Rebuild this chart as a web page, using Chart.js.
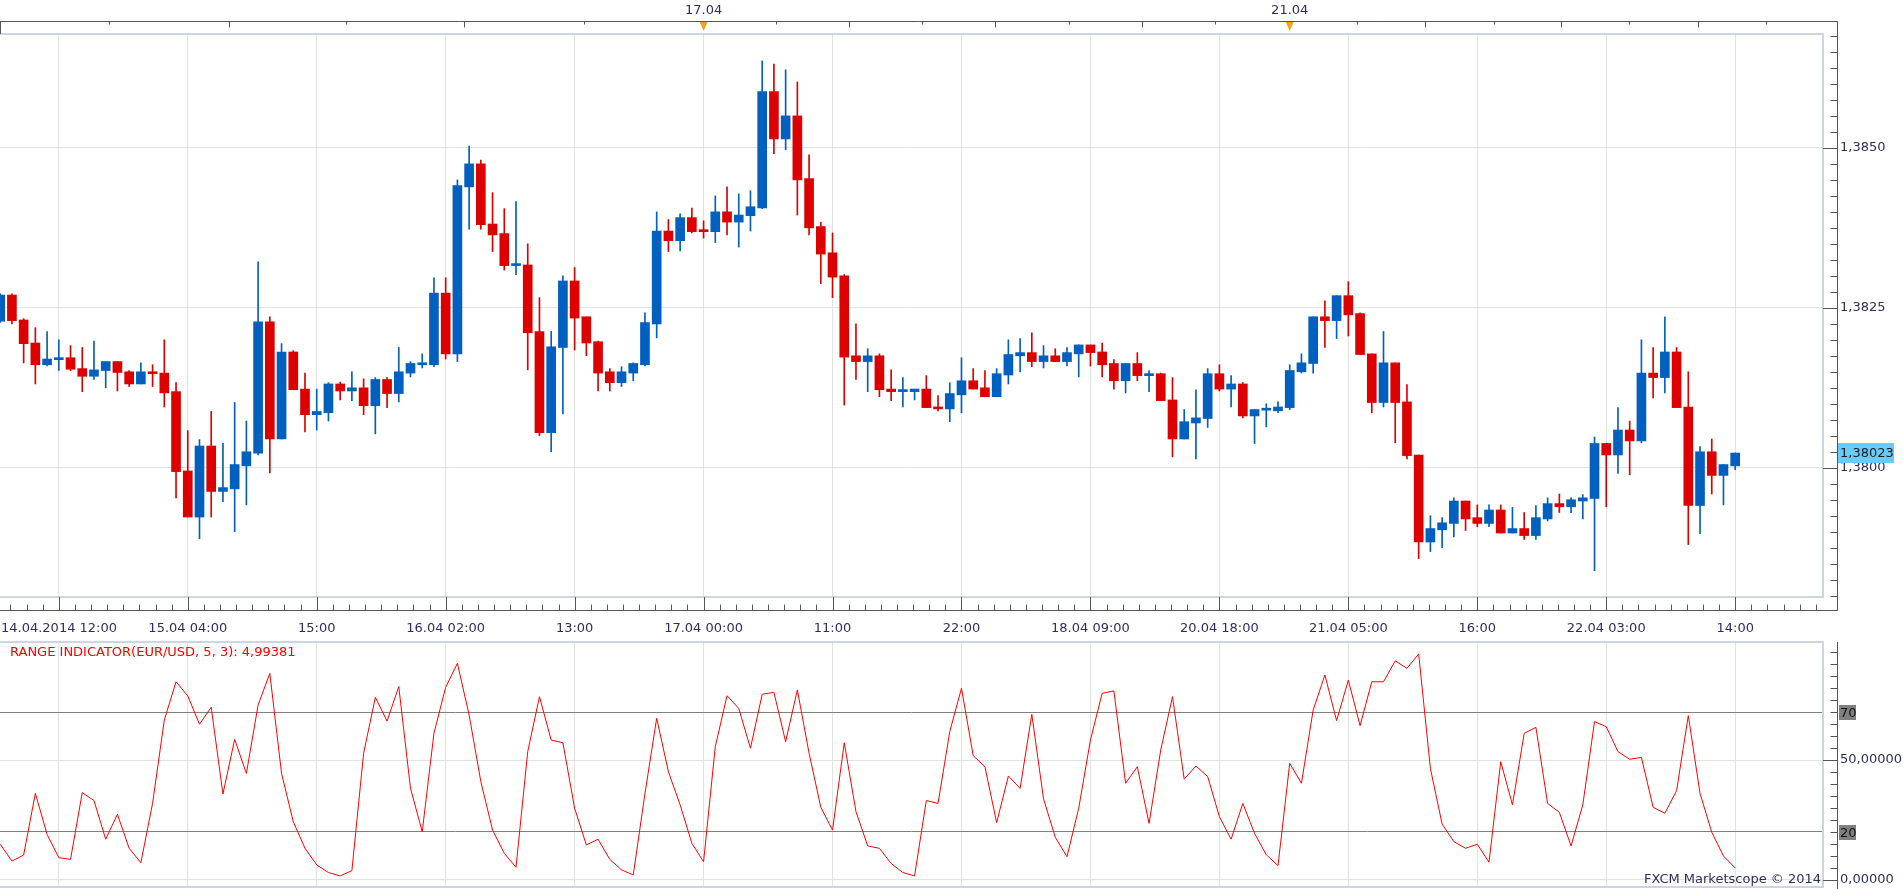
<!DOCTYPE html>
<html>
<head>
<meta charset="utf-8">
<title>EUR/USD H1</title>
<script src="https://cdn.jsdelivr.net/npm/chart.js@4.4.1/dist/chart.umd.min.js"></script>
<style>
  html, body { margin: 0; padding: 0; background: #fff; overflow: hidden; }
  #main { position: absolute; left: 0; top: 0; }
  #ind { position: absolute; left: 0; top: 640px; }
</style>
</head>
<body>
<canvas id="main" width="1903" height="640"></canvas>
<canvas id="ind" width="1903" height="249"></canvas>
<script>
// EUR/USD hourly candles, 14.04.2014 12:00 .. 22.04.2014 14:00
const opens = [
  1.38229, 1.38270, 1.38231, 1.38195, 1.38161, 1.38169, 1.38172, 1.38155, 1.38143, 1.38152,
  1.38166, 1.38150, 1.38131, 1.38150, 1.38148, 1.38119, 1.37995, 1.37923, 1.38034, 1.37963,
  1.37967, 1.38003, 1.38023, 1.38228, 1.38045, 1.38181, 1.38123, 1.38083, 1.38086, 1.38131,
  1.38120, 1.38125, 1.38097, 1.38138, 1.38116, 1.38148, 1.38161, 1.38161, 1.38273, 1.38178,
  1.38439, 1.38475, 1.38381, 1.38366, 1.38316, 1.38317, 1.38213, 1.38055, 1.38188, 1.38292,
  1.38236, 1.38197, 1.38150, 1.38133, 1.38148, 1.38161, 1.38225, 1.38370, 1.38355, 1.38391,
  1.38370, 1.38369, 1.38400, 1.38384, 1.38394, 1.38406, 1.38588, 1.38514, 1.38550, 1.38452,
  1.38377, 1.38336, 1.38300, 1.38175, 1.38166, 1.38175, 1.38123, 1.38119, 1.38119, 1.38123,
  1.38095, 1.38092, 1.38114, 1.38136, 1.38125, 1.38111, 1.38145, 1.38175, 1.38180, 1.38166,
  1.38175, 1.38166, 1.38178, 1.38192, 1.38181, 1.38163, 1.38136, 1.38163, 1.38144, 1.38147,
  1.38106, 1.38045, 1.38070, 1.38077, 1.38147, 1.38123, 1.38131, 1.38081, 1.38090, 1.38089,
  1.38094, 1.38150, 1.38163, 1.38236, 1.38230, 1.38269, 1.38241, 1.38178, 1.38102, 1.38164,
  1.38103, 1.38020, 1.37884, 1.37903, 1.37913, 1.37948, 1.37922, 1.37913, 1.37934, 1.37898,
  1.37905, 1.37894, 1.37920, 1.37944, 1.37939, 1.37948, 1.37952, 1.38038, 1.38020, 1.38059,
  1.38042, 1.38148, 1.38141, 1.38181, 1.38095, 1.37941, 1.38025, 1.37988, 1.38003
];
const highs = [
  1.38272, 1.38272, 1.38233, 1.38219, 1.38213, 1.38200, 1.38191, 1.38188, 1.38198, 1.38166,
  1.38166, 1.38152, 1.38164, 1.38161, 1.38200, 1.38133, 1.38058, 1.38044, 1.38088, 1.38038,
  1.38102, 1.38073, 1.38322, 1.38236, 1.38194, 1.38183, 1.38148, 1.38123, 1.38133, 1.38134,
  1.38150, 1.38139, 1.38141, 1.38141, 1.38188, 1.38166, 1.38178, 1.38297, 1.38297, 1.38450,
  1.38503, 1.38481, 1.38430, 1.38405, 1.38416, 1.38350, 1.38266, 1.38213, 1.38300, 1.38313,
  1.38236, 1.38198, 1.38155, 1.38158, 1.38164, 1.38242, 1.38400, 1.38388, 1.38397, 1.38406,
  1.38386, 1.38425, 1.38439, 1.38428, 1.38433, 1.38636, 1.38631, 1.38622, 1.38603, 1.38489,
  1.38384, 1.38367, 1.38302, 1.38225, 1.38186, 1.38178, 1.38153, 1.38141, 1.38123, 1.38144,
  1.38113, 1.38133, 1.38172, 1.38155, 1.38152, 1.38155, 1.38200, 1.38202, 1.38211, 1.38191,
  1.38186, 1.38188, 1.38192, 1.38192, 1.38195, 1.38169, 1.38163, 1.38180, 1.38152, 1.38148,
  1.38141, 1.38091, 1.38122, 1.38155, 1.38161, 1.38144, 1.38133, 1.38091, 1.38100, 1.38103,
  1.38161, 1.38178, 1.38236, 1.38261, 1.38269, 1.38291, 1.38242, 1.38178, 1.38213, 1.38164,
  1.38130, 1.38020, 1.37925, 1.37922, 1.37953, 1.37948, 1.37942, 1.37942, 1.37942, 1.37938,
  1.37930, 1.37941, 1.37953, 1.37959, 1.37953, 1.37958, 1.38048, 1.38038, 1.38094, 1.38073,
  1.38200, 1.38188, 1.38236, 1.38188, 1.38150, 1.38033, 1.38045, 1.38005, 1.38023
];
const lows = [
  1.38227, 1.38225, 1.38164, 1.38131, 1.38159, 1.38152, 1.38152, 1.38119, 1.38138, 1.38125,
  1.38120, 1.38127, 1.38131, 1.38127, 1.38095, 1.37953, 1.37923, 1.37889, 1.37923, 1.37947,
  1.37900, 1.37942, 1.38020, 1.37992, 1.38045, 1.38122, 1.38056, 1.38059, 1.38073, 1.38106,
  1.38105, 1.38083, 1.38053, 1.38094, 1.38103, 1.38142, 1.38156, 1.38158, 1.38170, 1.38166,
  1.38373, 1.38373, 1.38338, 1.38309, 1.38302, 1.38153, 1.38050, 1.38025, 1.38084, 1.38184,
  1.38175, 1.38120, 1.38120, 1.38127, 1.38136, 1.38159, 1.38203, 1.38338, 1.38339, 1.38367,
  1.38359, 1.38352, 1.38364, 1.38345, 1.38370, 1.38405, 1.38491, 1.38497, 1.38395, 1.38364,
  1.38288, 1.38266, 1.38098, 1.38138, 1.38119, 1.38111, 1.38105, 1.38095, 1.38106, 1.38094,
  1.38089, 1.38072, 1.38086, 1.38123, 1.38111, 1.38111, 1.38131, 1.38150, 1.38158, 1.38156,
  1.38166, 1.38159, 1.38142, 1.38159, 1.38142, 1.38123, 1.38117, 1.38136, 1.38119, 1.38105,
  1.38017, 1.38045, 1.38014, 1.38063, 1.38120, 1.38095, 1.38078, 1.38038, 1.38064, 1.38086,
  1.38091, 1.38148, 1.38148, 1.38188, 1.38202, 1.38206, 1.38177, 1.38086, 1.38095, 1.38039,
  1.38014, 1.37858, 1.37869, 1.37875, 1.37892, 1.37902, 1.37908, 1.37908, 1.37898, 1.37898,
  1.37888, 1.37888, 1.37917, 1.37930, 1.37930, 1.37920, 1.37839, 1.37939, 1.37991, 1.37989,
  1.38039, 1.38109, 1.38117, 1.38094, 1.37880, 1.37897, 1.37959, 1.37942, 1.37997
];
const closes = [
  1.38270, 1.38230, 1.38194, 1.38161, 1.38170, 1.38172, 1.38154, 1.38143, 1.38153, 1.38166,
  1.38149, 1.38131, 1.38150, 1.38147, 1.38117, 1.37994, 1.37923, 1.38034, 1.37963, 1.37969,
  1.38005, 1.38025, 1.38228, 1.38045, 1.38181, 1.38122, 1.38083, 1.38088, 1.38131, 1.38120,
  1.38125, 1.38097, 1.38138, 1.38116, 1.38150, 1.38163, 1.38164, 1.38273, 1.38178, 1.38441,
  1.38475, 1.38380, 1.38364, 1.38316, 1.38317, 1.38211, 1.38055, 1.38189, 1.38292, 1.38234,
  1.38195, 1.38148, 1.38133, 1.38150, 1.38163, 1.38227, 1.38370, 1.38355, 1.38391, 1.38369,
  1.38369, 1.38400, 1.38384, 1.38395, 1.38408, 1.38588, 1.38514, 1.38550, 1.38450, 1.38375,
  1.38334, 1.38298, 1.38173, 1.38166, 1.38175, 1.38122, 1.38119, 1.38120, 1.38123, 1.38094,
  1.38092, 1.38116, 1.38136, 1.38123, 1.38111, 1.38147, 1.38177, 1.38180, 1.38166, 1.38175,
  1.38166, 1.38180, 1.38192, 1.38180, 1.38161, 1.38136, 1.38163, 1.38144, 1.38147, 1.38105,
  1.38045, 1.38072, 1.38078, 1.38147, 1.38123, 1.38131, 1.38081, 1.38091, 1.38091, 1.38095,
  1.38152, 1.38164, 1.38236, 1.38230, 1.38269, 1.38239, 1.38177, 1.38102, 1.38164, 1.38102,
  1.38019, 1.37884, 1.37905, 1.37914, 1.37948, 1.37920, 1.37913, 1.37934, 1.37898, 1.37905,
  1.37894, 1.37922, 1.37944, 1.37939, 1.37950, 1.37953, 1.38038, 1.38020, 1.38059, 1.38042,
  1.38148, 1.38141, 1.38181, 1.38094, 1.37941, 1.38025, 1.37988, 1.38005, 1.38023
];
// Range indicator (EUR/USD, 5, 3)
const rangeInd = [
  14.9, 7.9, 10.4, 36.1, 19.0, 9.3, 8.6, 36.4, 33.1, 17.0,
  27.4, 13.2, 7.2, 32.0, 66.7, 82.6, 76.7, 64.9, 72.0, 35.8,
  58.6, 44.4, 72.9, 86.1, 44.4, 24.3, 13.2, 6.3, 3.1, 1.7,
  3.9, 52.8, 76.1, 66.2, 80.6, 38.2, 20.1, 61.1, 80.3, 90.3,
  68.8, 41.0, 20.8, 11.1, 5.3, 53.5, 76.4, 58.3, 57.2, 29.9,
  14.6, 17.0, 8.6, 4.2, 2.1, 36.0, 67.4, 45.1, 31.3, 15.3,
  7.6, 55.6, 76.8, 71.5, 54.9, 77.4, 78.2, 57.6, 79.2, 52.8,
  30.3, 20.8, 57.2, 28.5, 14.2, 13.2, 6.9, 3.1, 1.7, 33.1,
  31.9, 61.8, 79.9, 51.8, 47.2, 23.9, 43.3, 38.2, 69.0, 33.8,
  17.8, 9.7, 29.9, 58.3, 77.8, 78.8, 40.3, 47.2, 23.6, 54.2,
  76.4, 42.0, 47.5, 43.1, 26.4, 17.0, 31.9, 19.4, 10.5, 6.0,
  48.6, 40.3, 70.8, 85.4, 66.4, 83.3, 64.3, 82.6, 82.6, 91.3,
  88.2, 94.2, 46.5, 23.3, 16.0, 13.2, 14.9, 7.4, 49.3, 31.3,
  61.1, 63.6, 31.9, 28.2, 14.2, 31.3, 66.0, 63.9, 53.5, 50.3,
  51.1, 30.3, 27.8, 37.2, 68.5, 36.1, 19.9, 10.0, 4.99381
];

// time axis: candle index of each label / gridline
const xLabelIdx = [0, 16, 27, 38, 49, 60, 71, 82, 93, 104, 115, 126, 137, 148];
const xLabelText = ['14.04.2014 12:00', '15.04 04:00', '15:00', '16.04 02:00', '13:00', '17.04 00:00',
  '11:00', '22:00', '18.04 09:00', '20.04 18:00', '21.04 05:00', '16:00', '22.04 03:00', '14:00'];
const gridIdx = [5, 16, 27, 38, 49, 60, 71, 82, 93, 104, 115, 126, 137, 148];
const dayMarkIdx = [60, 110];
const dayMarkText = ['17.04', '21.04'];
const topTicksLong = [19.5, 39.6, 72.4, 84.9, 97.4, 121.5, 133.1, 144.8];
const topTicksShort = [9.3, 29.5, 49.8, 66.2, 78.6, 91.2, 103.6, 115.7, 127.4, 138.9, 150.6];
const priceTicks = [1.3800, 1.3825, 1.3850];
const indTicks = [0, 20, 50, 70];
const indLevels = [20, 70];

const FONT = '13px "DejaVu Sans", sans-serif';
const TXT = '#2f2f5f';
const FRAME = '#cdd6e0';
const AXIS = '#555555';
const GRID = '#e2e2e2';
const UP = '#0060c0';
const DOWN = '#dd0000';
const X_MIN = -0.017, X_MAX = 155.49;

const idx = opens.map((_, i) => i);
const candleColors = idx.map(i => closes[i] >= opens[i] ? UP : DOWN);
const comma = (v, d) => v.toFixed(d).replace('.', ',');

const mainDeco = {
  id: 'mainDeco',
  afterDraw(chart) {
    const { ctx, chartArea: a, scales: { x, y } } = chart;
    const axR = a.right + 14.5, axT = 21.5, axB = 610.5;
    ctx.save();
    // cadre du graphe
    ctx.strokeStyle = FRAME; ctx.lineWidth = 2;
    ctx.beginPath();
    ctx.moveTo(0, a.top); ctx.lineTo(a.right, a.top); ctx.lineTo(a.right, a.bottom); ctx.lineTo(0, a.bottom);
    ctx.stroke();

    ctx.strokeStyle = AXIS; ctx.lineWidth = 1;
    ctx.beginPath();
    ctx.moveTo(0, axT); ctx.lineTo(axR, axT); ctx.lineTo(axR, axB); ctx.lineTo(0, axB);
    ctx.moveTo(0.5, axT); ctx.lineTo(0.5, a.top);
    topTicksLong.forEach(v => {
      const px = Math.round(x.getPixelForValue(v)) + 0.5;
      ctx.moveTo(px, axT); ctx.lineTo(px, axT + 6);
    });
    topTicksShort.forEach(v => {
      const px = Math.round(x.getPixelForValue(v)) + 0.5;
      ctx.moveTo(px, axT); ctx.lineTo(px, axT + 3);
    });
    for (let k = Math.ceil(y.min / 0.00025); k * 0.00025 <= y.max; k++) {
      const py = Math.round(y.getPixelForValue(k * 0.00025)) + 0.5;
      ctx.moveTo(k % 10 === 0 ? a.right : axR - 7, py); ctx.lineTo(axR, py);
    }
    const step = 11 / 8;
    for (let j = -4; gridIdx[0] + j * step <= x.max; j++) {
      const t = gridIdx[0] + j * step;
      if (t < x.min) continue;
      const px = Math.round(x.getPixelForValue(t)) + 0.5;
      ctx.moveTo(px, (j % 8 === 0) ? a.bottom : axB - 6); ctx.lineTo(px, axB);
    }
    ctx.stroke();

    ctx.font = FONT; ctx.textBaseline = 'middle';
    dayMarkIdx.forEach((v, k) => {
      const px = x.getPixelForValue(v);
      ctx.fillStyle = TXT; ctx.textAlign = 'center';
      ctx.fillText(dayMarkText[k], px, 11);
      ctx.fillStyle = '#f5a31a';
      ctx.beginPath(); ctx.moveTo(px - 4, 22); ctx.lineTo(px + 4, 22); ctx.lineTo(px, 31); ctx.closePath(); ctx.fill();
    });

    ctx.fillStyle = TXT;
    xLabelIdx.forEach((v, k) => {
      ctx.textAlign = k === 0 ? 'left' : 'center';
      ctx.fillText(xLabelText[k], k === 0 ? 1 : x.getPixelForValue(v), 628.5);
    });

    // dernier prix
    const last = closes[closes.length - 1];
    const py = y.getPixelForValue(last);
    ctx.fillStyle = '#66ccff';
    ctx.fillRect(axR + 0.5, py - 10, 56, 20);
    ctx.fillStyle = '#1a1a1a'; ctx.textAlign = 'left';
    ctx.fillText(comma(last, 5), axR + 2.5, py + 1);
    ctx.restore();
  }
};

const indDeco = {
  id: 'indDeco',
  afterDraw(chart) {
    const { ctx, chartArea: a, scales: { y } } = chart;
    const axR = a.right + 14.5;
    ctx.save();
    ctx.strokeStyle = FRAME; ctx.lineWidth = 2;
    ctx.beginPath();
    ctx.moveTo(0, a.top); ctx.lineTo(a.right, a.top); ctx.lineTo(a.right, a.bottom); ctx.lineTo(0, a.bottom);
    ctx.stroke();

    ctx.strokeStyle = AXIS; ctx.lineWidth = 1;
    ctx.beginPath();
    ctx.moveTo(axR, a.top); ctx.lineTo(axR, chart.height);
    for (let v = 0; v <= y.max; v += 5) {
      const py = Math.round(y.getPixelForValue(v)) + 0.5;
      ctx.moveTo(v % 50 === 0 ? a.right : axR - 7, py); ctx.lineTo(axR, py);
    }
    ctx.stroke();

    ctx.font = FONT; ctx.textBaseline = 'middle'; ctx.textAlign = 'left';
    indLevels.forEach(v => {
      const py = y.getPixelForValue(v);
      ctx.fillStyle = '#808080';
      ctx.fillRect(axR + 1.5, py - 7, 17, 15);
      ctx.fillStyle = '#111';
      ctx.fillText(String(v), axR + 2.5, py + 1.5);
    });

    const last = rangeInd[rangeInd.length - 1];
    ctx.fillStyle = '#ff0000';
    ctx.fillText('RANGE INDICATOR(EUR/USD, 5, 3): ' + comma(last, 5), 10, 13);
    ctx.fillStyle = TXT; ctx.textAlign = 'right';
    ctx.fillText('FXCM Marketscope \u00a9 2014', a.right - 2, 240);
    ctx.restore();
  }
};

const xScale = (h) => ({
  type: 'linear', min: X_MIN, max: X_MAX, offset: false,
  afterBuildTicks: s => { s.ticks = gridIdx.map(v => ({ value: v })); },
  afterFit: s => { s.height = h; s.paddingLeft = 0; s.paddingRight = 0; },
  grid: { color: GRID, drawTicks: false, offset: false },
  border: { display: false },
  ticks: { display: false }
});

// axe de droite : largeur fixe, pas de marge auto pour les libellés
const yFit = s => { s.width = 80; s.paddingTop = 0; s.paddingBottom = 0; };

new Chart(document.getElementById('main'), {
  type: 'bar',
  data: {
    datasets: [
      {
        data: idx.map(i => ({ x: i, y: [opens[i], closes[i]] })),
        backgroundColor: candleColors, borderWidth: 0,
        barThickness: 9, minBarLength: 2, grouped: false
      },
      {
        data: idx.map(i => ({ x: i, y: [lows[i], highs[i]] })),
        backgroundColor: candleColors, borderWidth: 0,
        barThickness: 1, grouped: false
      }
    ]
  },
  options: {
    responsive: false, animation: false, devicePixelRatio: 1,
    layout: { padding: { top: 34, left: 0, right: 0, bottom: 0 } },
    plugins: { legend: { display: false }, tooltip: { enabled: false } },
    scales: {
      x: xScale(43),
      y: {
        type: 'linear', position: 'right', min: 1.37798, max: 1.38678, beginAtZero: false,
        afterBuildTicks: s => { s.ticks = priceTicks.map(v => ({ value: v })); },
        afterFit: yFit,
        grid: { color: GRID, drawTicks: false },
        border: { display: false },
        ticks: {
          autoSkip: false, padding: 17, color: TXT,
          font: { family: '"DejaVu Sans", sans-serif', size: 13 },
          callback: v => comma(v, 4)
        }
      }
    }
  },
  plugins: [mainDeco]
});

new Chart(document.getElementById('ind'), {
  type: 'line',
  data: {
    datasets: [{
      data: idx.map(i => ({ x: i, y: rangeInd[i] })),
      borderColor: '#ff0000', borderWidth: 1, pointRadius: 0, tension: 0, fill: false
    }]
  },
  options: {
    responsive: false, animation: false, devicePixelRatio: 1,
    layout: { padding: { top: 2, left: 0, right: 0, bottom: 2 } },
    plugins: { legend: { display: false }, tooltip: { enabled: false } },
    scales: {
      x: xScale(0),
      y: {
        type: 'linear', position: 'right', min: -2.92, max: 99.17,
        afterBuildTicks: s => { s.ticks = indTicks.map(v => ({ value: v })); },
        afterFit: yFit,
        grid: { color: c => indLevels.includes(c.tick.value) ? '#808080' : GRID, drawTicks: false },
        border: { display: false },
        ticks: {
          autoSkip: false, padding: 17, color: TXT,
          font: { family: '"DejaVu Sans", sans-serif', size: 13 },
          callback: v => indLevels.includes(v) ? '' : comma(v, 5)
        }
      }
    }
  },
  plugins: [indDeco]
});
</script>
</body>
</html>
